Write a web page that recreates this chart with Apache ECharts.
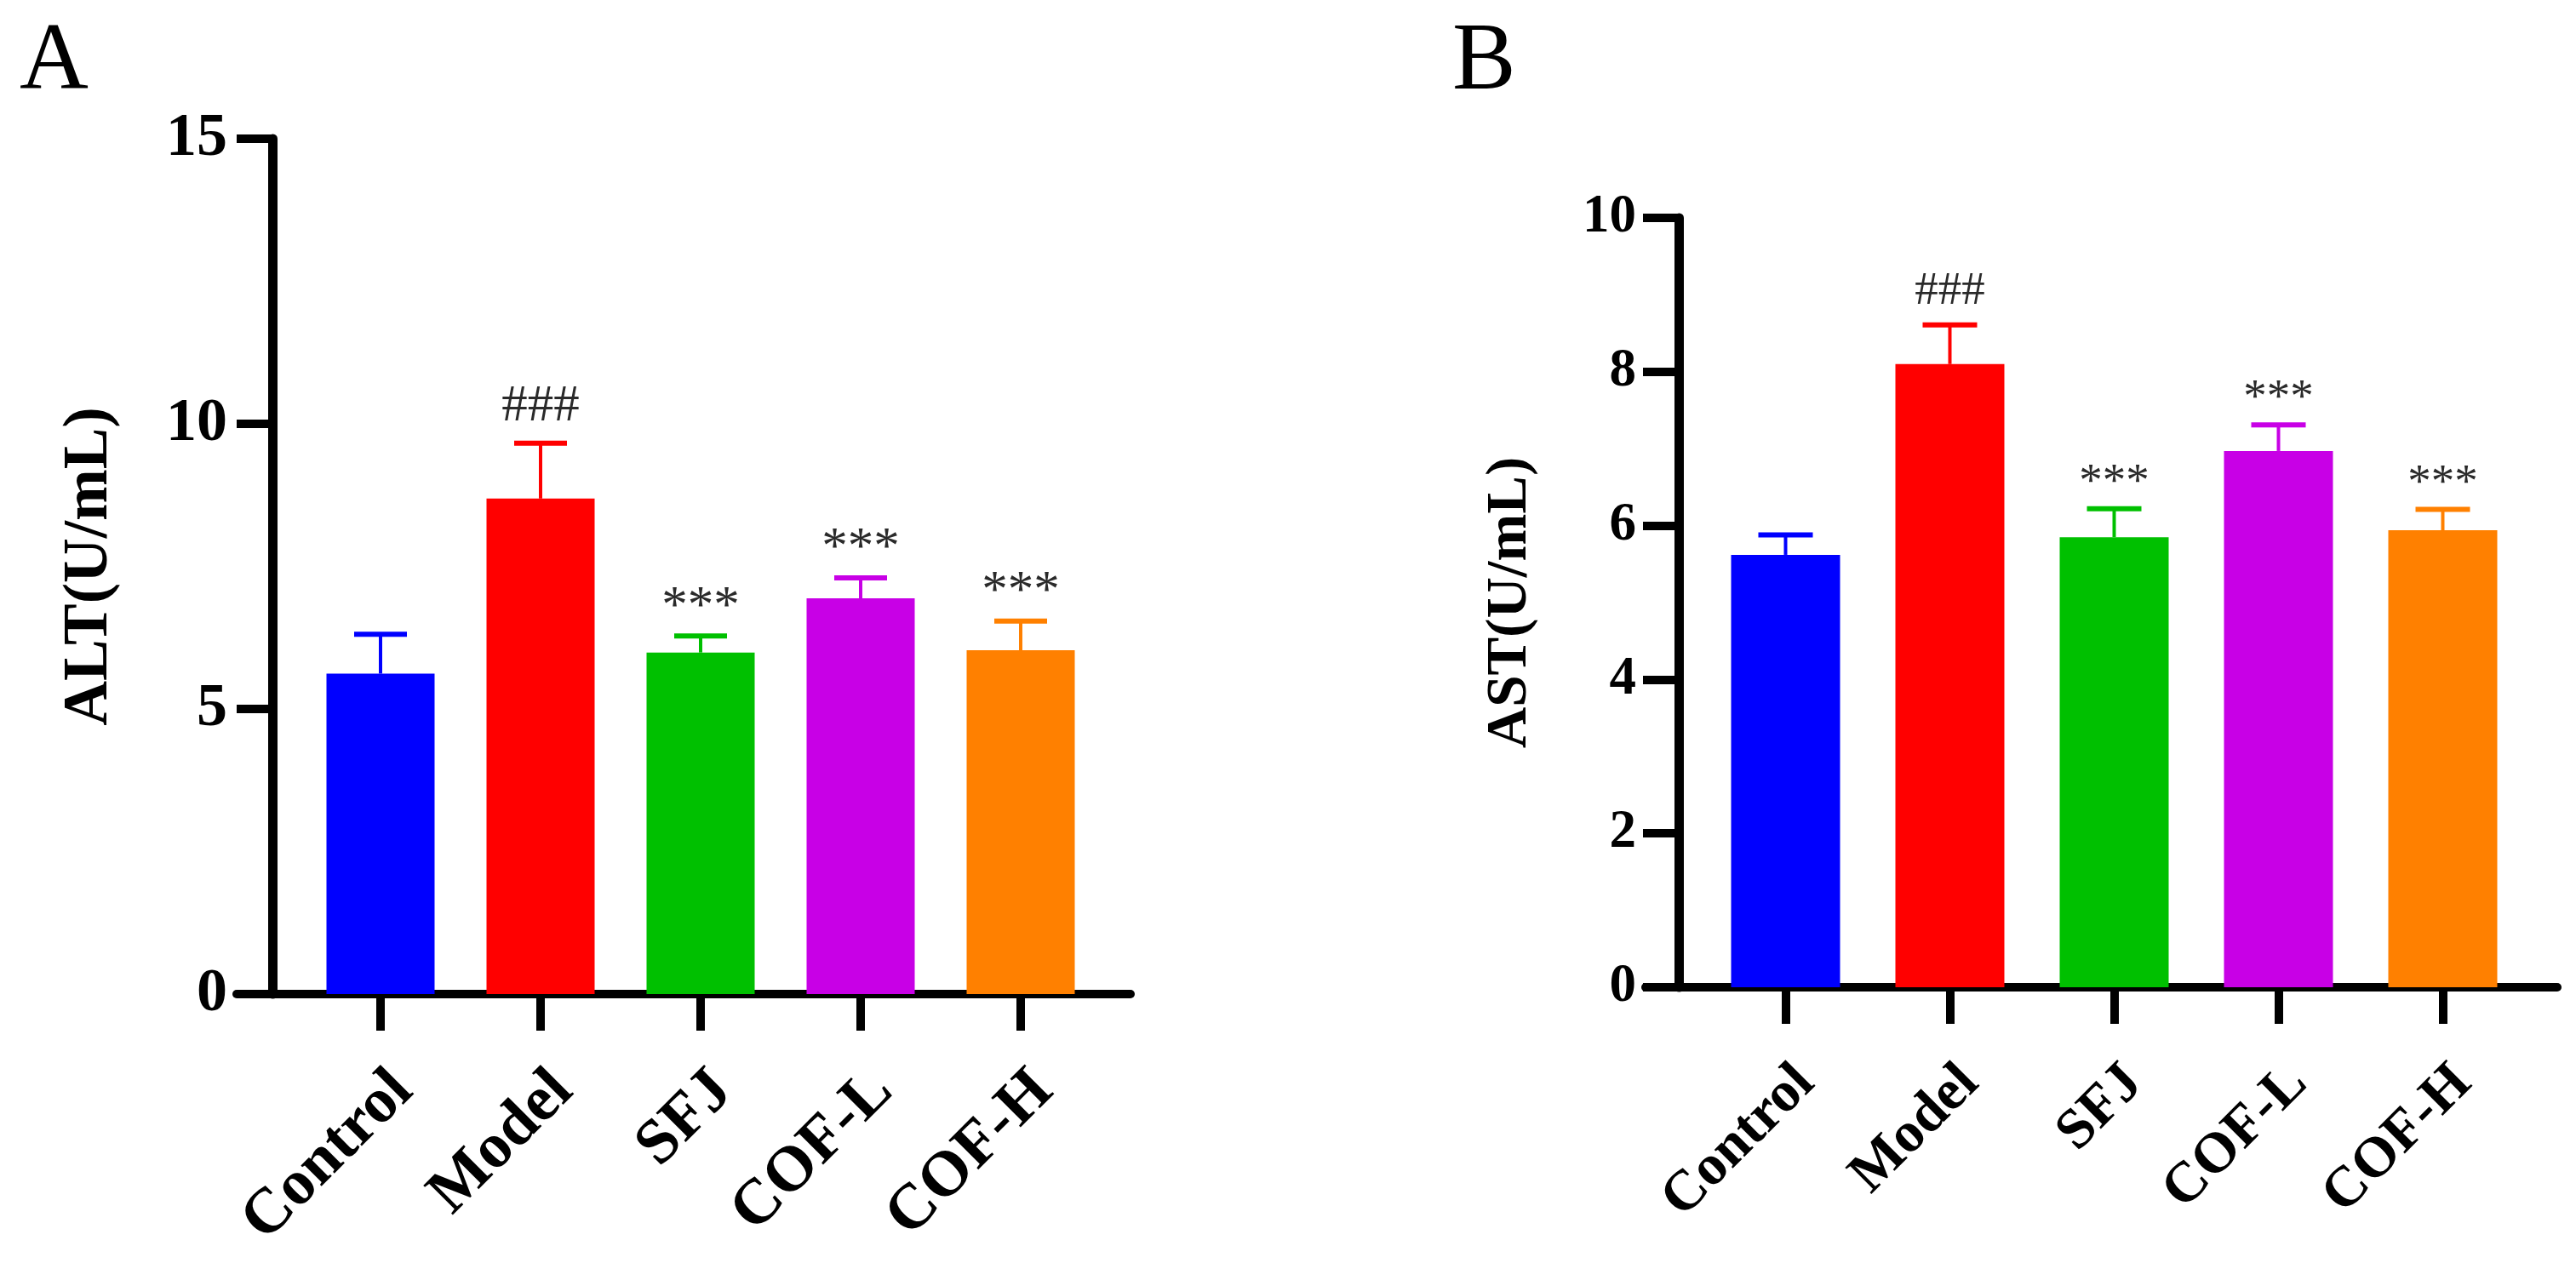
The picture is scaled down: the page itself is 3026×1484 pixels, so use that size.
<!DOCTYPE html>
<html><head><meta charset="utf-8">
<script src="https://cdn.jsdelivr.net/npm/echarts@6/dist/echarts.min.js"></script>
<style>html,body{margin:0;padding:0;background:#fff}#c{width:3026px;height:1484px}</style>
</head><body><div id="c"></div><script>
const categories = ['Control', 'Model', 'SFJ', 'COF-L', 'COF-H'];
const barColors = ['#0000FF', '#FF0000', '#00C000', '#C800E6', '#FF8000'];
const altMean = [5.62, 8.69, 5.99, 6.94, 6.03];
const altErr = [0.69, 0.97, 0.29, 0.36, 0.51];
const altMarks = ['', '###', '***', '***', '***'];
const astMean = [5.62, 8.10, 5.85, 6.97, 5.94];
const astErr = [0.26, 0.51, 0.37, 0.34, 0.27];
const astMarks = ['', '###', '***', '***', '***'];
const altAxis = { name: 'ALT(U/mL)', min: 0, max: 15, interval: 5 };
const astAxis = { name: 'AST(U/mL)', min: 0, max: 10, interval: 2 };
const panelLetters = ['A', 'B'];

const FONT = '"Liberation Serif", "Times New Roman", serif';
const chart = echarts.init(document.getElementById('c'));

function errorSeries(gridIdx, means, errs, marks, capHalf, fs) {
  return {
    type: 'custom', xAxisIndex: gridIdx * 2, yAxisIndex: gridIdx * 2, z: 5,
    data: means.map((m, i) => [i, m, m + errs[i]]),
    encode: { x: 0, y: [1, 2] },
    renderItem: function (params, api) {
      const i = params.dataIndex;
      const c = barColors[i];
      const b = api.coord([api.value(0), api.value(1)]);
      const t = api.coord([api.value(0), api.value(2)]);
      const mk = marks[i];
      const gap = mk.charAt(0) === '#' ? 12 : 3;
      return {
        type: 'group', children: [
          { type: 'line', shape: { x1: b[0], y1: b[1], x2: t[0], y2: t[1] }, style: { stroke: c, lineWidth: 4 } },
          { type: 'line', shape: { x1: t[0] - capHalf, y1: t[1], x2: t[0] + capHalf, y2: t[1] }, style: { stroke: c, lineWidth: 6 } },
          { type: 'text', x: t[0], y: t[1] - gap, style: { text: mk, fill: '#2a2a2a', font: 'normal ' + fs + 'px ' + FONT, align: 'center', verticalAlign: 'bottom', textAlign: 'center', textVerticalAlign: 'bottom' } }
        ]
      };
    }
  };
}

function barSeries(gridIdx, means, bw) {
  return {
    type: 'bar', xAxisIndex: gridIdx * 2, yAxisIndex: gridIdx * 2, barWidth: bw, z: 2,
    data: means.map((v, i) => ({ value: v, itemStyle: { color: barColors[i] } }))
  };
}

const panels = [
  { ax: altAxis, mean: altMean, err: altErr, marks: altMarks, barLeft: 353, band: 188, top: 163, height: 1005, yOffset: 33,
    lineLeft: 278, lineWidth: 1050, bw: 127, tickFs: 72, labFs: 75, nameFs: 73, nameGap: 177, labMargin: 53, xMargin: 76, annFs: 61, cap: 31 },
  { ax: astAxis, mean: astMean, err: astErr, marks: astMarks, barLeft: 2001, band: 193, top: 256, height: 904, yOffset: 29,
    lineLeft: 1933, lineWidth: 1071, bw: 128, tickFs: 63, labFs: 67, nameFs: 67, nameGap: 164, labMargin: 50, xMargin: 79, annFs: 55, cap: 32 }
];

const grid = [], xAxis = [], yAxis = [], series = [];
panels.forEach((p, k) => {
  grid.push({ left: p.barLeft, width: p.band * 5, top: p.top, height: p.height, outerBoundsMode: 'none', containLabel: false });
  grid.push({ left: p.lineLeft, width: p.lineWidth, top: p.top, height: p.height, outerBoundsMode: 'none', containLabel: false });
  xAxis.push({
    type: 'category', gridIndex: 2 * k, data: categories,
    axisLine: { show: false },
    axisTick: { show: true, alignWithLabel: true, length: 43, lineStyle: { color: '#000', width: 10 } },
    axisLabel: { interval: 0, rotate: 45, margin: p.xMargin, align: 'right', verticalAlign: 'top', fontFamily: FONT, fontWeight: 'bold', fontSize: p.labFs, color: '#000' },
    splitLine: { show: false }
  });
  xAxis.push({
    type: 'value', gridIndex: 2 * k + 1, min: 0, max: 1,
    axisLine: { show: true, onZero: false, lineStyle: { color: '#000', width: 10 } },
    axisTick: { show: false }, axisLabel: { show: false }, splitLine: { show: false }
  });
  yAxis.push({
    type: 'value', gridIndex: 2 * k, min: p.ax.min, max: p.ax.max, interval: p.ax.interval, offset: p.yOffset,
    name: p.ax.name, nameLocation: 'middle', nameRotate: 90, nameGap: p.nameGap, nameMoveOverlap: false,
    nameTextStyle: { fontFamily: FONT, fontWeight: 'bold', fontSize: p.nameFs, color: '#000' },
    axisLine: { show: true, lineStyle: { color: '#000', width: 11 } },
    axisTick: { show: true, length: 42, lineStyle: { color: '#000', width: 10 } },
    axisLabel: { margin: p.labMargin, fontFamily: FONT, fontWeight: 'bold', fontSize: p.tickFs, color: '#000' },
    splitLine: { show: false }
  });
  yAxis.push({ type: 'value', gridIndex: 2 * k + 1, min: 0, max: 1, show: false });
  series.push(barSeries(k, p.mean, p.bw));
  series.push(errorSeries(k, p.mean, p.err, p.marks, p.cap, p.annFs));
});

chart.setOption({
  animation: false,
  backgroundColor: '#fff',
  title: [
    { text: panelLetters[0], left: 23, top: 19, padding: 0, textStyle: { fontFamily: FONT, fontSize: 112, fontWeight: 'normal', color: '#000', lineHeight: 112 } },
    { text: panelLetters[1], left: 1706, top: 19, padding: 0, textStyle: { fontFamily: FONT, fontSize: 112, fontWeight: 'normal', color: '#000', lineHeight: 112 } }
  ],
  grid: grid, xAxis: xAxis, yAxis: yAxis, series: series
});
</script></body></html>
